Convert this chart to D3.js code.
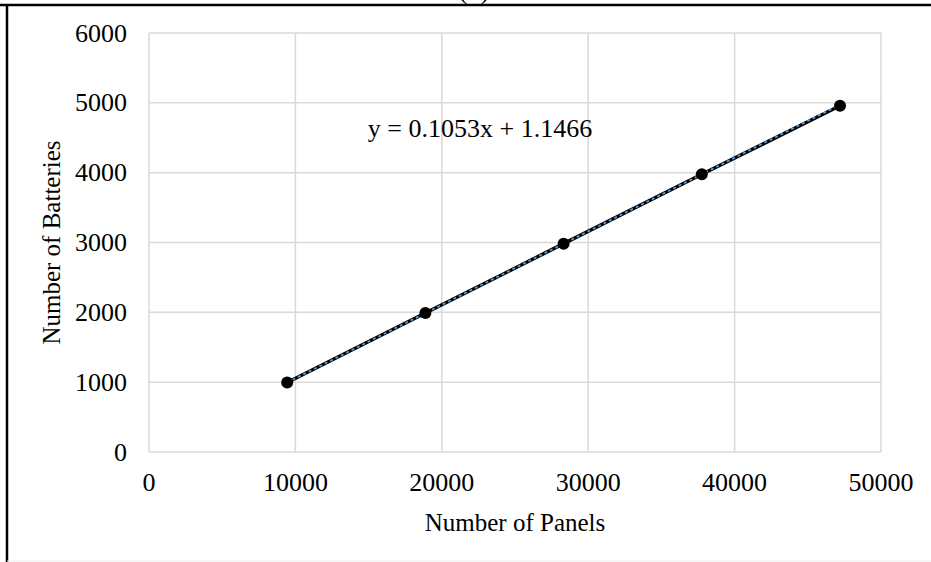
<!DOCTYPE html>
<html>
<head>
<meta charset="utf-8">
<script src="https://cdn.jsdelivr.net/npm/d3@7"></script>
<style>
  body { margin: 0; background: #fff; }
  svg { display: block; font-family: "Liberation Serif", "Times New Roman", serif; }
</style>
</head>
<body>
<svg id="chart" width="931" height="562"></svg>
<script>
// data
const panels = [9440, 18880, 28320, 37760, 47200];
const batteries = [995, 1990, 2983, 3977, 4958];
const xTicks = [0, 10000, 20000, 30000, 40000, 50000];
const yTicks = [0, 1000, 2000, 3000, 4000, 5000, 6000];
const slope = 0.1053, intercept = 1.1466;

const svg = d3.select('#chart');
const W = 931, H = 562;
const margin = {top: 33, right: 50, bottom: 110, left: 149};

const x = d3.scaleLinear([0, 50000], [margin.left, 881]);
const y = d3.scaleLinear([0, 6000], [452, margin.top]);

// outer frame
svg.append('line').attr('x1', 0).attr('x2', W).attr('y1', 5).attr('y2', 5)
    .attr('stroke', '#000').attr('stroke-width', 2.5);
svg.append('line').attr('x1', 7).attr('x2', 7).attr('y1', 4).attr('y2', H)
    .attr('stroke', '#000').attr('stroke-width', 2.5);
svg.append('line').attr('x1', 7).attr('x2', W).attr('y1', 561).attr('y2', 561)
    .attr('stroke', '#eee').attr('stroke-width', 1);

// caption above, cut off by the frame in the original
svg.append('text').attr('x', 474).attr('y', -1).attr('text-anchor', 'middle')
    .style('font-size', '26px').text('(b)');

// grid
svg.append('g').selectAll('line').data(xTicks).join('line')
    .attr('x1', d => x(d)).attr('x2', d => x(d))
    .attr('y1', y(6000)).attr('y2', y(0))
    .attr('stroke', '#d9d9d9').attr('stroke-width', 1.5);
svg.append('g').selectAll('line').data(yTicks).join('line')
    .attr('x1', x(0)).attr('x2', x(50000))
    .attr('y1', d => y(d)).attr('y2', d => y(d))
    .attr('stroke', '#d9d9d9').attr('stroke-width', 1.5);

// tick labels
svg.append('g').selectAll('text').data(yTicks).join('text')
    .attr('x', 127).attr('y', d => y(d)).attr('dy', '0.33em')
    .attr('text-anchor', 'end').style('font-size', '26px')
    .text(d => d);
svg.append('g').selectAll('text').data(xTicks).join('text')
    .attr('x', d => x(d)).attr('y', 491)
    .attr('text-anchor', 'middle').style('font-size', '26px')
    .text(d => d);

// axis titles
svg.append('text').attr('x', x(25000)).attr('y', 531)
    .attr('text-anchor', 'middle').style('font-size', '25px')
    .text('Number of Panels');
svg.append('text')
    .attr('transform', `translate(60,${y(3000)}) rotate(-90)`)
    .attr('text-anchor', 'middle').style('font-size', '25px')
    .text('Number of Batteries');

// series line
const pts = panels.map((p, i) => [p, batteries[i]]);
svg.append('path').datum(pts)
    .attr('d', d3.line().x(d => x(d[0])).y(d => y(d[1])))
    .attr('fill', 'none').attr('stroke', '#000').attr('stroke-width', 3.5);

// linear trendline
const tx = d3.extent(panels);
svg.append('path').datum(tx.map(v => [v, slope * v + intercept]))
    .attr('d', d3.line().x(d => x(d[0])).y(d => y(d[1])))
    .attr('fill', 'none').attr('stroke', '#5b9bd5').attr('stroke-width', 1.8)
    .attr('stroke-dasharray', '3,3');

// markers
svg.append('g').selectAll('circle').data(pts).join('circle')
    .attr('cx', d => x(d[0])).attr('cy', d => y(d[1])).attr('r', 6)
    .attr('fill', '#000');

// equation label
svg.append('text').attr('x', 480).attr('y', 137)
    .attr('text-anchor', 'middle').style('font-size', '26px')
    .text(`y = ${slope}x + ${intercept}`);
</script>
</body>
</html>
